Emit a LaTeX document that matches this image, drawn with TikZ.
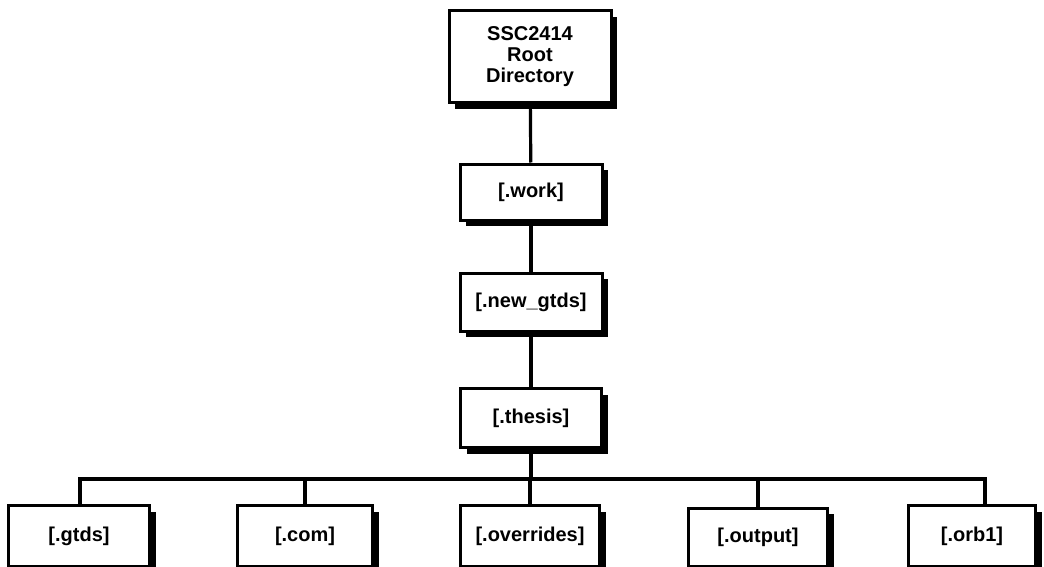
\documentclass[tikz,border=0pt]{standalone}
\usepackage{fontspec}
\setmainfont{Liberation Sans}
\usetikzlibrary{shadows}

\tikzset{
  dirbox/.style={draw,line width=3pt,fill=white,align=center,inner sep=0pt,
    font=\fontsize{20}{21}\bfseries,
    drop shadow={shadow xshift=6pt,shadow yshift=-6pt,fill=black,opacity=1}},
  link/.style={line width=3.2pt}
}

\begin{document}
\begin{tikzpicture}[x=1pt,y=-1pt]
  \useasboundingbox (0,0) rectangle (1044,567);
  % top chain
  \node[dirbox,minimum width=162pt,minimum height=92pt] (root) at (530,57) {SSC2414\\Root\\Directory};
  \node[dirbox,minimum width=142pt,minimum height=56pt] (work) at (531,192) {[.work]};
  \node[dirbox,minimum width=142pt,minimum height=58pt] (newgtds) at (531,302) {[.new\_gtds]};
  \node[dirbox,minimum width=141pt,minimum height=59pt] (thesis) at (531,418) {[.thesis]};
  \draw[link] (root) -- (work);
  \draw[link] (work) -- (newgtds);
  \draw[link] (newgtds) -- (thesis);
  % subfolders of thesis
  \node[dirbox,minimum width=141pt,minimum height=61pt] (gtds) at (79,536) {[.gtds]};
  \node[dirbox,minimum width=135pt,minimum height=61pt] (com) at (305,536) {[.com]};
  \node[dirbox,minimum width=139pt,minimum height=61pt] (overrides) at (530,536) {[.overrides]};
  \node[dirbox,minimum width=139pt,minimum height=58pt] (output) at (758,537) {[.output]};
  \node[dirbox,minimum width=127pt,minimum height=61pt] (orb1) at (972,536) {[.orb1]};
  \coordinate (busL) at (80,479);
  \coordinate (busR) at (985,479);
  \draw[link] (busL |- gtds.north) -- (busL) -- (busR) -- (busR |- orb1.north);
  \draw[link] (thesis) -- (thesis |- busL);
  \draw[link] (com.north) -- (com.north |- busL);
  \draw[link] (overrides.north) -- (overrides.north |- busL);
  \draw[link] (output.north) -- (output.north |- busL);
\end{tikzpicture}
\end{document}
